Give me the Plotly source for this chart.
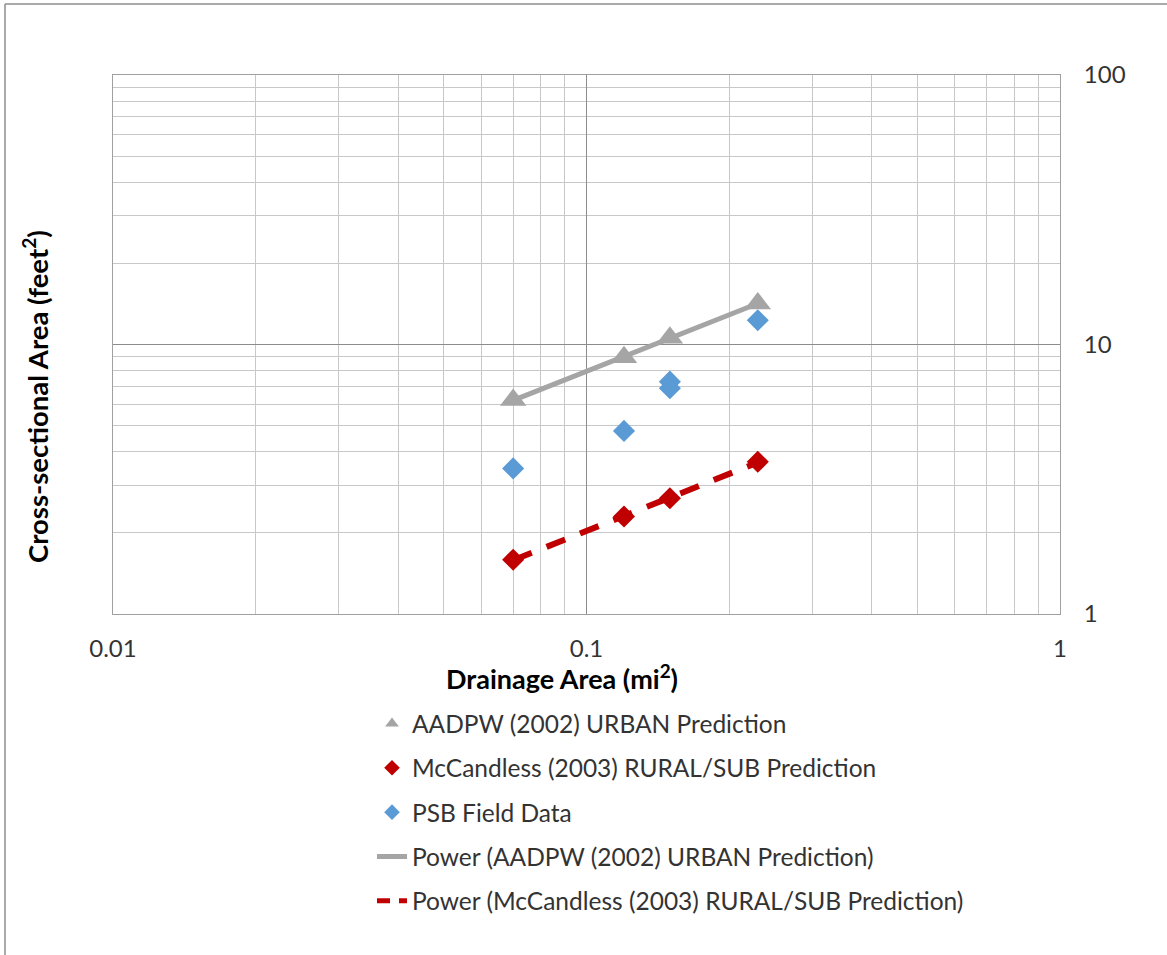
import numpy as np
import plotly.graph_objects as go

# ---- data ----
urban_x = [0.07, 0.12, 0.15, 0.23]
urban_y = [6.22, 8.97, 10.6, 14.2]

rural_x = [0.07, 0.12, 0.15, 0.23]
rural_y = [1.59, 2.30, 2.69, 3.67]

psb_x = [0.07, 0.12, 0.15, 0.15, 0.23]
psb_y = [3.47, 4.78, 7.28, 6.88, 12.3]

x_ticks = [0.01, 0.1, 1]
x_tick_text = ["0.01", "0.1", "1"]
y_ticks = [1, 10, 100]
y_tick_text = ["1", "10", "100"]

FONT = "Lato, Noto Sans, sans-serif"
GRAY = "#a5a5a5"
RED = "#c00000"
BLUE = "#5b9bd5"
DASH = "20px,16px"


def power_fit(xs, ys):
    b, a = np.polyfit(np.log10(xs), np.log10(ys), 1)
    xx = np.array([min(xs), max(xs)])
    return xx, 10 ** a * xx ** b


ux, uy = power_fit(urban_x, urban_y)
rx, ry = power_fit(rural_x, rural_y)

fig = go.Figure()

fig.add_trace(go.Scatter(
    x=ux, y=uy, mode="lines", showlegend=False, hoverinfo="skip",
    line=dict(color=GRAY, width=5)))
fig.add_trace(go.Scatter(
    x=rx, y=ry, mode="lines", showlegend=False, hoverinfo="skip",
    line=dict(color=RED, width=6, dash=DASH)))

fig.add_trace(go.Scatter(
    x=urban_x, y=urban_y, mode="markers", name="AADPW (2002) URBAN Prediction",
    legendgroup="a", legendrank=1,
    marker=dict(symbol="triangle-up", size=23, color=GRAY)))
fig.add_trace(go.Scatter(
    x=rural_x, y=rural_y, mode="markers", name="McCandless (2003) RURAL/SUB Prediction",
    legendgroup="b", legendrank=2,
    marker=dict(symbol="diamond", size=17, color=RED)))
fig.add_trace(go.Scatter(
    x=psb_x, y=psb_y, mode="markers", name="PSB Field Data",
    legendgroup="c", legendrank=3,
    marker=dict(symbol="diamond", size=17, color=BLUE)))

# legend-only entries for the trendlines
fig.add_trace(go.Scatter(
    x=[None], y=[None], mode="lines", name="Power (AADPW (2002) URBAN Prediction)",
    legendgroup="d", legendrank=4, line=dict(color=GRAY, width=5)))
fig.add_trace(go.Scatter(
    x=[None], y=[None], mode="lines", name="Power (McCandless (2003) RURAL/SUB Prediction)",
    legendgroup="e", legendrank=5, line=dict(color=RED, width=6, dash="13px,9px")))

axis_common = dict(
    type="log", showline=True, linecolor="#a0a0a0", linewidth=1, mirror=True,
    showgrid=True, gridcolor="#8c8c8c", gridwidth=1, zeroline=False,
    ticks="", tickfont=dict(family=FONT, size=24, color="#333333"),
    minor=dict(dtick="D1", showgrid=True, gridcolor="#c8c8c8", gridwidth=1, ticks=""),
)

fig.update_xaxes(range=[-2, 0], tickvals=x_ticks, ticktext=x_tick_text,
                 ticklabelstandoff=13, **axis_common)
fig.update_yaxes(range=[0, 2], tickvals=y_ticks, ticktext=y_tick_text,
                 side="right", ticklabelstandoff=18, **axis_common)

fig.add_annotation(
    text="<b>Drainage Area (mi<sup>2</sup>)</b>", xref="paper", yref="paper",
    x=(562 - 113) / 947, y=(614 - 677) / 539, showarrow=False,
    font=dict(family=FONT, size=27, color="#000000"), xanchor="center", yanchor="middle")
fig.add_annotation(
    text="<b>Cross-sectional Area (feet<sup>2</sup>)</b>", xref="paper", yref="paper",
    x=(35 - 113) / 947, y=(614 - 397) / 539, showarrow=False, textangle=-90,
    font=dict(family=FONT, size=27.5, color="#000000"), xanchor="center", yanchor="middle")

# outer chart border (top and left edges visible in the reference)
fig.add_shape(type="line", xref="paper", yref="paper",
              x0=(5 - 113) / 947, x1=1.2, y0=(614 - 4) / 539, y1=(614 - 4) / 539,
              line=dict(color="#8c8c8c", width=1.5))
fig.add_shape(type="line", xref="paper", yref="paper",
              x0=(5 - 113) / 947, x1=(5 - 113) / 947, y0=(614 - 4) / 539, y1=-1,
              line=dict(color="#8c8c8c", width=1.5))

fig.update_layout(
    width=1167, height=955,
    margin=dict(l=113, r=107, t=75, b=341),
    paper_bgcolor="white", plot_bgcolor="white",
    font=dict(family=FONT, color="#333333"),
    legend=dict(
        x=(372 - 113) / 947, y=(614 - 701) / 539, xanchor="left", yanchor="top",
        traceorder="grouped", tracegroupgap=9.5,
        font=dict(family=FONT, size=24.5, color="#333333"),
        itemsizing="constant", bgcolor="rgba(0,0,0,0)"),
    showlegend=True,
)

fig.write_html("out.html", config={"displayModeBar": False},
               post_script="document.body.style.margin='0px';")
